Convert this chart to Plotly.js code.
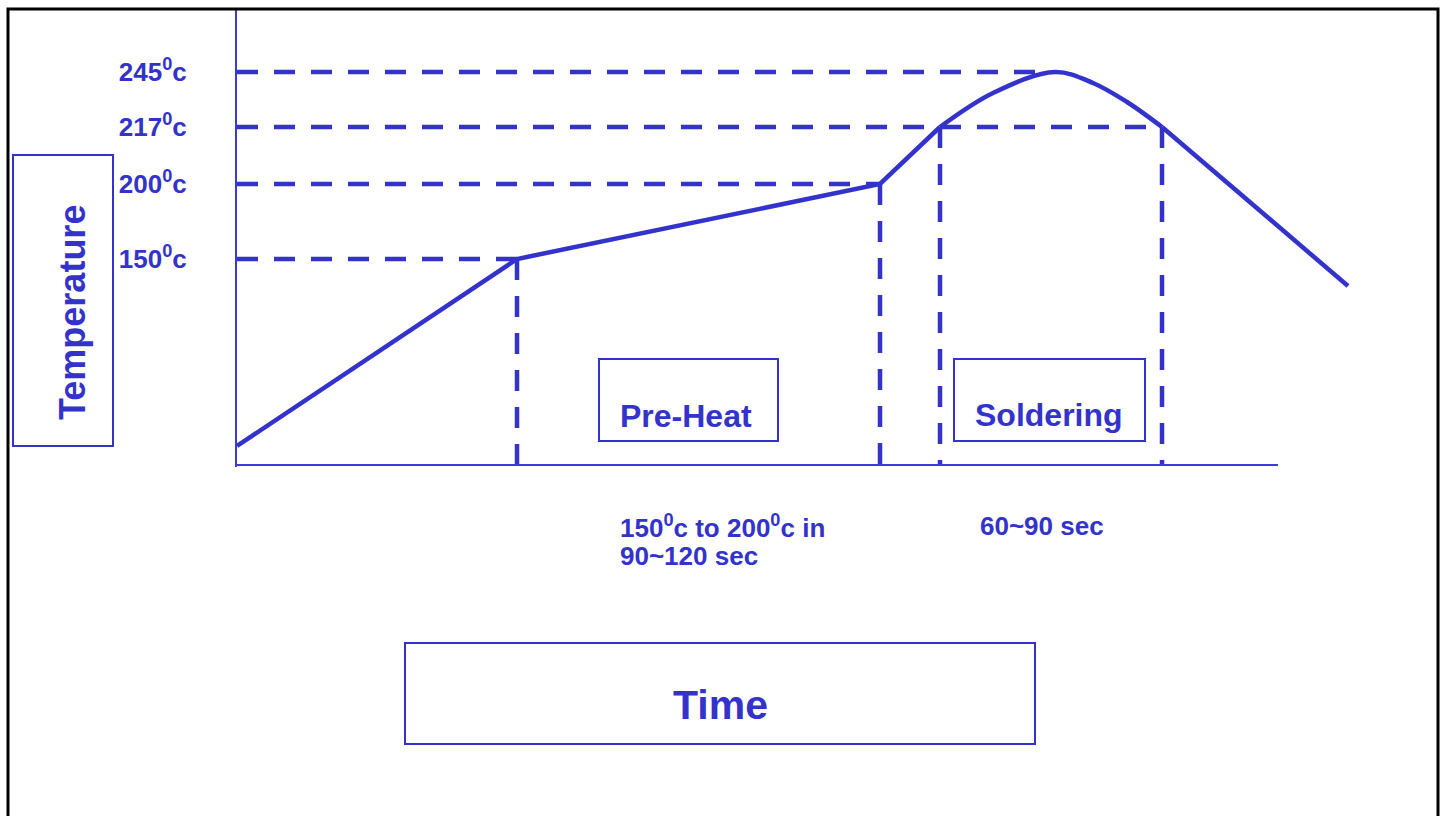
<!DOCTYPE html>
<html>
<head>
<meta charset="utf-8">
<script src="https://cdn.plot.ly/plotly-3.0.1.min.js"></script>
<style>html,body{margin:0;padding:0;background:#fff;}#chart{width:1442px;height:816px;}</style>
</head>
<body>
<div id="chart"></div>
<script>
// Schematic reflow profile (time and level in schematic drawing units)
const rampTime = [0, 280, 643, 703];
const rampLevel = [19, 206, 281, 338];
const peakTime = [703, 756, 818, 856, 890, 925];
const peakLevel = [338, 372, 393, 382, 363, 338];
const coolTime = [925, 1111];
const coolLevel = [338, 179];

// Temperature levels and labels
const tempLevel = [206, 281, 338, 393];
const tempLabel = ['150<sup>0</sup>c', '200<sup>0</sup>c', '217<sup>0</sup>c', '245<sup>0</sup>c'];
const levelGuideEnd = [280, 643, 925, 808];   // horizontal dashed guide ends at the curve
const dropTime = [280, 643, 703, 925];       // vertical dashed guides
const dropLevel = [206, 281, 338, 338];
const axisEnd = 1041;

const blue = '#3333CC';
const W = 1442, H = 816;
const L = 237, R = 80, T = 9, B = 349;
const pw = W - L - R, ph = H - T - B;
const px = x => (x - L) / pw;
const py = y => (H - B - y) / ph;

const traces = [];
const dash = '21px,16px';
tempLevel.forEach((lv, i) => {
  traces.push({x: [0, levelGuideEnd[i]], y: [lv, lv], mode: 'lines',
    line: {color: blue, width: 4.5, dash: dash}, hoverinfo: 'skip', showlegend: false});
});
dropTime.forEach((t, i) => {
  traces.push({x: [t, t], y: [dropLevel[i], 0], mode: 'lines',
    line: {color: blue, width: 4.5, dash: dash}, hoverinfo: 'skip', showlegend: false});
});
traces.push({x: rampTime, y: rampLevel, mode: 'lines', line: {color: blue, width: 4.5}, showlegend: false});
traces.push({x: peakTime, y: peakLevel, mode: 'lines', line: {color: blue, width: 4.5, shape: 'spline', smoothing: 1}, showlegend: false});
traces.push({x: coolTime, y: coolLevel, mode: 'lines', line: {color: blue, width: 4.5}, showlegend: false});

function box(x0, y0, x1, y1, color, width) {
  return {type: 'rect', xref: 'paper', yref: 'paper', x0: px(x0), x1: px(x1), y0: py(y1), y1: py(y0),
    line: {color: color, width: width}, fillcolor: 'rgba(0,0,0,0)', layer: 'above'};
}
function note(text, x, y, size, opts) {
  return Object.assign({xref: 'paper', yref: 'paper', x: px(x), y: py(y), text: '<b>' + text + '</b>', showarrow: false,
    xanchor: 'center', yanchor: 'middle',
    font: {family: 'Liberation Sans, Arial, sans-serif', size: size, color: blue, weight: 'bold'}}, opts || {});
}

const layout = {
  width: W, height: H,
  margin: {l: L, r: R, t: T, b: B, pad: 0},
  paper_bgcolor: '#fff', plot_bgcolor: '#fff',
  showlegend: false,
  xaxis: {range: [0, pw], showgrid: false, zeroline: false, showline: false, showticklabels: false, ticks: '', fixedrange: true},
  yaxis: {range: [-2, ph - 2], showgrid: false, zeroline: false, showline: true, linecolor: '#3a3ad4', linewidth: 2,
    tickvals: tempLevel, ticktext: tempLabel.map(t => '<b>' + t + '</b>'), ticks: '', ticklabelstandoff: 43,
    tickfont: {family: 'Liberation Sans, Arial, sans-serif', size: 26, color: blue, weight: 'bold'}, fixedrange: true},
  shapes: [
    {type: 'line', xref: 'x', yref: 'y', x0: 0, x1: axisEnd, y0: 0, y1: 0, line: {color: '#3a3ad4', width: 2}},
    box(8, 9, 1438, 840, '#000', 3),
    box(13, 155, 113, 446, blue, 2),
    box(599, 359, 778, 441, blue, 2),
    box(954, 359, 1145, 441, blue, 2),
    box(405, 643, 1035, 744, blue, 2)
  ],
  annotations: [
    note('Temperature', 72, 313, 36, {textangle: -90}),
    note('Pre-Heat', 686, 416, 32),
    note('Soldering', 1049, 415, 32),
    note('Time', 720, 705, 41),
    note('150<sup>0</sup>c to 200<sup>0</sup>c in', 618, 526, 26, {xanchor: 'left'}),
    note('90~120 sec', 618, 556, 26, {xanchor: 'left'}),
    note('60~90 sec', 1042, 526, 26)
  ]
};

Plotly.newPlot('chart', traces, layout, {displayModeBar: false, staticPlot: true});
</script>
</body>
</html>
